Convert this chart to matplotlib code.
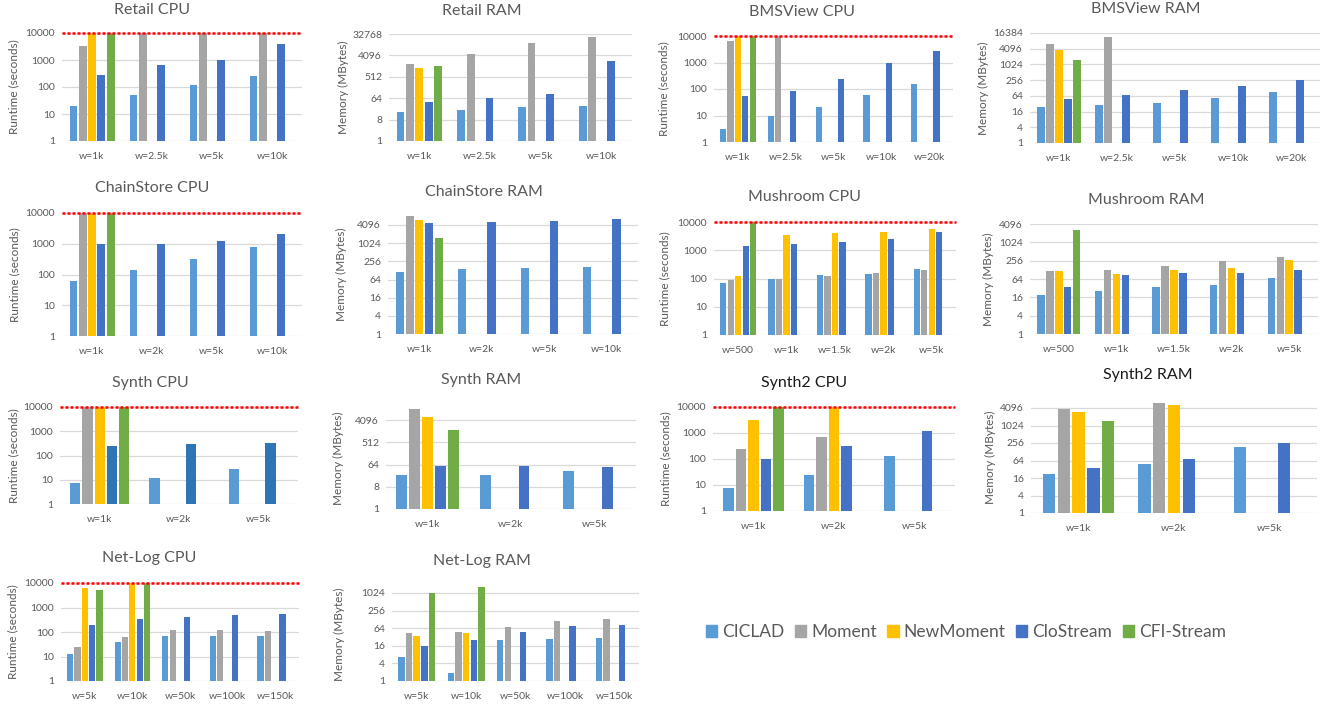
import numpy as np
import matplotlib

matplotlib.use("Agg")

import matplotlib.pyplot as plt
from matplotlib.patches import Patch
from matplotlib.ticker import FixedLocator, FixedFormatter, NullLocator

plt.rcParams["font.family"] = ["Lato", "DejaVu Sans"]

W, H = 1332, 707
N = np.nan

SERIES = ["CICLAD", "Moment", "NewMoment", "CloStream", "CFI-Stream"]
COLORS = ["#5B9BD5", "#A5A5A5", "#FFC000", "#4472C4", "#70AD47"]
TEXT = "#595959"
GRID = "#D9D9D9"

CPU_TICKS = [1, 10, 100, 1000, 10000]

# rows are series in SERIES order, columns are window sizes
retail_windows = ["w=1k", "w=2.5k", "w=5k", "w=10k"]
retail_cpu = [
    [20, 50, 115, 257],
    [3300, 10000, 10000, 10000],
    [10000, N, N, N],
    [270, 660, 1000, 3900],
    [10000, N, N, N],
]
retail_ram = [
    [17, 21, 27, 29],
    [1760, 4800, 13600, 25000],
    [1150, N, N, N],
    [43, 68, 94, 2350],
    [1450, N, N, N],
]

bms_windows = ["w=1k", "w=2.5k", "w=5k", "w=10k", "w=20k"]
bms_cpu = [
    [3.0, 9.3, 20.4, 58, 160],
    [6500, 10000, N, N, N],
    [10000, N, N, N, N],
    [55, 81, 230, 990, 2640],
    [10000, N, N, N, N],
]
bms_ram = [
    [24.7, 29.5, 34, 53, 93],
    [6300, 11300, N, N, N],
    [3800, N, N, N, N],
    [49, 71, 105, 158, 260],
    [1570, N, N, N, N],
]

chain_windows = ["w=1k", "w=2k", "w=5k", "w=10k"]
chain_cpu = [
    [62, 135, 325, 760],
    [10000, N, N, N],
    [10000, N, N, N],
    [950, 1000, 1250, 2080],
    [10000, N, N, N],
]
chain_ram = [
    [117, 140, 151, 163],
    [8100, N, N, N],
    [5950, N, N, N],
    [4630, 5000, 5400, 6600],
    [1480, N, N, N],
]

mush_windows = ["w=500", "w=1k", "w=1.5k", "w=2k", "w=5k"]
mush_cpu = [
    [68, 100, 135, 147, 215],
    [90, 100, 118, 158, 192],
    [127, 3380, 3970, 4300, 5650],
    [1440, 1700, 2000, 2500, 4300],
    [10000, N, N, N, N],
]
mush_ram = [
    [19.6, 26, 34, 40, 71],
    [120, 130, 171, 250, 347],
    [120, 96, 123, 151, 269],
    [34, 87, 98, 98, 123],
    [2540, N, N, N, N],
]

synth_windows = ["w=1k", "w=2k", "w=5k"]
synth_cpu = [
    [7.6, 12.3, 27],
    [10000, N, N],
    [10000, N, N],
    [250, 295, 325],
    [10000, N, N],
]
synth_ram = [
    [24.5, 24.5, 34],
    [11400, N, N],
    [5250, N, N],
    [58, 58, 50],
    [1570, N, N],
]

synth2_windows = ["w=1k", "w=2k", "w=5k"]
synth2_cpu = [
    [7.6, 24, 132],
    [240, 690, N],
    [3250, 10000, N],
    [100, 330, 1240],
    [10000, N, N],
]
synth2_ram = [
    [21.7, 48, 182],
    [3870, 6060, N],
    [2880, 5330, N],
    [36, 72, 250],
    [1490, N, N],
]

netlog_windows = ["w=5k", "w=10k", "w=50k", "w=100k", "w=150k"]
netlog_cpu = [
    [12.4, 39, 67, 71, 71],
    [25.5, 61, 120, 120, 110],
    [6500, 10000, N, N, N],
    [187, 347, 405, 490, 540],
    [5050, 10000, N, N, N],
]
netlog_ram = [
    [6.8, 1.9, 26, 28, 30],
    [45, 49, 70, 113, 132],
    [34.6, 45, N, N, N],
    [15.3, 26, 49, 78, 82],
    [1000, 1600, N, N, N],
]

RAM8 = [1, 8, 64, 512, 4096, 32768]
RAM4 = [1, 4, 16, 64, 256, 1024, 4096, 16384]

# title, windows, values, cpu?, yticks, ymax,
# (left px, right px, px of y=1, ref value, px of ref), title (x, y), ylabel x
panels = [
    ("Retail CPU", retail_windows, retail_cpu, True, CPU_TICKS, 10000,
     (62, 302, 141, 10000, 33), (152, 10), 14),
    ("Retail RAM", retail_windows, retail_ram, False, RAM8, 32768,
     (389, 632, 141, 32768, 34), (482, 11), 343),
    ("BMSView CPU", bms_windows, bms_cpu, True, CPU_TICKS, 10000,
     (714, 953, 142, 10000, 36), (802, 12), 664),
    ("BMSView RAM", bms_windows, bms_ram, False, RAM4, 16384,
     (1030, 1320, 143, 16384, 33), (1146, 9), 983),
    ("ChainStore CPU", chain_windows, chain_cpu, True, CPU_TICKS, 10000,
     (62, 302, 336, 10000, 213), (152, 188), 15),
    ("ChainStore RAM", chain_windows, chain_ram, False, RAM4[:7], 9000,
     (388, 638, 334, 4096, 225), (484, 192), 341),
    ("Mushroom CPU", mush_windows, mush_cpu, True, CPU_TICKS, 10000,
     (714, 956, 335, 10000, 222), (804, 197), 665),
    ("Mushroom RAM", mush_windows, mush_ram, False, RAM4[:7], 4096,
     (1030, 1318, 334, 4096, 224), (1146, 200), 988),
    ("Synth CPU", synth_windows, synth_cpu, True, CPU_TICKS, 10000,
     (60, 298, 504, 10000, 407), (150, 383), 14),
    ("Synth RAM", synth_windows, synth_ram, False, RAM8[:5], 12000,
     (386, 636, 509, 4096, 420), (481, 380), 338),
    ("Synth2 CPU", synth2_windows, synth2_cpu, True, CPU_TICKS, 10000,
     (713, 955, 511, 10000, 407), (804, 383), 666),
    ("Synth2 RAM", synth2_windows, synth2_ram, False, RAM4[:7], 6500,
     (1031, 1317, 513, 4096, 408), (1148, 375), 990),
    ("Net-Log CPU", netlog_windows, netlog_cpu, True, CPU_TICKS, 10000,
     (61, 299, 681, 10000, 583), (149, 558), 13),
    ("Net-Log RAM", netlog_windows, netlog_ram, False, RAM4[:6], 1700,
     (392, 639, 681, 1024, 593), (482, 561), 339),
]

SLOT = 0.155
BAR_W = 0.13

fig = plt.figure(figsize=(W / 100, H / 100), dpi=100)

for title, windows, values, is_cpu, yticks, ymax, box, tpos, ylab_x in panels:
    left, right, y1, ref_val, ref_px = box
    px_per_log = (y1 - ref_px) / np.log10(ref_val)
    top = y1 - px_per_log * np.log10(ymax)
    ax = fig.add_axes([left / W, 1 - y1 / H, (right - left) / W, (y1 - top) / H])
    ax.set_yscale("log")

    x = np.arange(len(windows))
    colors = list(COLORS)
    if title == "Synth CPU":
        colors[3] = "#2E75B6"
    for s, row in enumerate(values):
        row = np.asarray(row, dtype=float)
        ok = ~np.isnan(row)
        ax.bar(x[ok] + (s - 2) * SLOT, row[ok] - 1, BAR_W, bottom=1,
               color=colors[s], zorder=2)

    ax.set_xlim(-0.5, len(windows) - 0.5)
    ax.set_ylim(1, ymax)
    ax.yaxis.set_major_locator(FixedLocator(yticks))
    ax.yaxis.set_major_formatter(FixedFormatter([str(t) for t in yticks]))
    ax.yaxis.set_minor_locator(NullLocator())
    ax.set_xticks(x)
    ax.set_xticklabels(windows)
    ax.tick_params(length=0, labelsize=7.5, colors=TEXT)
    ax.tick_params(axis="x", pad=8)
    ax.tick_params(axis="y", pad=5)
    ax.yaxis.grid(True, color=GRID, lw=0.9)
    ax.set_axisbelow(True)
    for sp in ax.spines.values():
        sp.set_visible(False)

    if is_cpu:
        ax.axhline(10000, color="#FF0000", ls=(0, (1.2, 0.8)), lw=1.8,
                   clip_on=False, zorder=3)

    tcolor = "#1A1A1A" if title.startswith("Synth2") else TEXT
    fig.text(tpos[0] / W, 1 - tpos[1] / H, title, ha="center", va="center",
             fontsize=11.5, color=tcolor)
    ylabel = "Runtime (seconds)" if is_cpu else "Memory (MBytes)"
    fig.text(ylab_x / W, 1 - (y1 + top) / 2 / H, ylabel, rotation=90,
             ha="center", va="center", fontsize=8.5, color=TEXT)

handles = [Patch(color=c) for c in COLORS]
fig.legend(handles, SERIES, loc="center", bbox_to_anchor=(966 / W, 1 - 632 / H),
           ncol=5, frameon=False, fontsize=12.5, labelcolor=TEXT,
           handlelength=0.65, handleheight=0.65, handletextpad=0.3,
           columnspacing=0.6)

fig.savefig("out.png", dpi=100)
plt.close(fig)
